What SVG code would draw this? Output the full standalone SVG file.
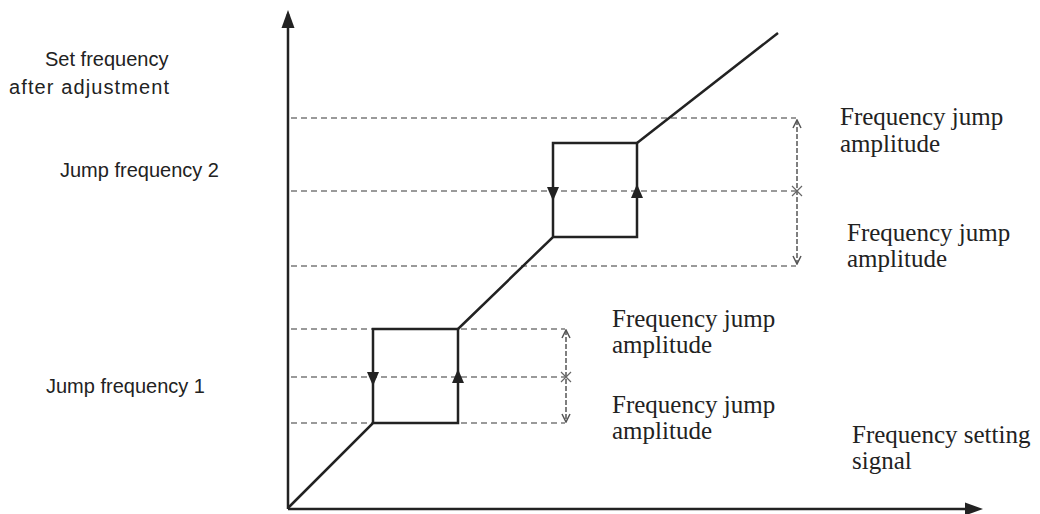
<svg xmlns="http://www.w3.org/2000/svg" width="1040" height="514" viewBox="0 0 1040 514">
<style>
.ax{stroke:#222;stroke-width:2.5;fill:none}
.ln{stroke:#222;stroke-width:2.5;fill:none;stroke-linejoin:miter}
.ds{stroke:#7a7a7a;stroke-width:1.5;stroke-dasharray:6 4;fill:none}
.dim{stroke:#555;stroke-width:1.5;stroke-dasharray:5 2;fill:none}
.x{stroke:#666;stroke-width:1.2;fill:none}
.sans{font-family:"Liberation Sans",Arial,sans-serif;font-size:20px;fill:#222}
.serif{font-family:"Liberation Serif","Times New Roman",serif;font-size:25px;fill:#222}
</style>
<defs>
<marker id="open" markerWidth="10" markerHeight="10" refX="9" refY="5" orient="auto-start-reverse" markerUnits="userSpaceOnUse">
<path d="M1,1 L9,5 L1,9" fill="none" stroke="#555" stroke-width="1.5"/>
</marker>
</defs>
<g id="axes">
<line class="ax" x1="288" y1="509" x2="288" y2="14"/>
<path d="M281.5,28 L288,10 L294.5,28 Z" fill="#222"/>
<line class="ax" x1="288" y1="509" x2="968" y2="509"/>
<path d="M965,502.5 L983,509 L965,515.5 Z" fill="#222"/>
</g>
<g id="guides">
<line class="ds" x1="291" y1="118" x2="796" y2="118"/>
<line class="ds" x1="291" y1="191" x2="796" y2="191"/>
<line class="ds" x1="291" y1="266" x2="796" y2="266"/>
<line class="ds" x1="291" y1="329" x2="565" y2="329"/>
<line class="ds" x1="291" y1="377" x2="565" y2="377"/>
<line class="ds" x1="291" y1="423" x2="565" y2="423"/>
</g>
<g id="connectors">
<polyline class="ln" points="288,508 373,423 458,423 458,329 373,329 373,423"/>
<polyline class="ln" points="458,329 553,237 637,237 637,143 553,143 553,237"/>
<polyline class="ln" points="637,143 778,33"/>
<path d="M367,372 L379,372 L373,386 Z" fill="#222"/>
<path d="M452,383 L464,383 L458,369 Z" fill="#222"/>
<path d="M547,187 L559,187 L553,201 Z" fill="#222"/>
<path d="M631,198 L643,198 L637,184 Z" fill="#222"/>
</g>
<g id="dimension1">
<line class="dim" x1="566" y1="330" x2="566" y2="422" marker-start="url(#open)" marker-end="url(#open)"/>
<path class="x" d="M561,372 L571,382 M571,372 L561,382"/>
</g>
<g id="dimension2">
<line class="dim" x1="797" y1="120" x2="797" y2="264" marker-start="url(#open)" marker-end="url(#open)"/>
<path class="x" d="M792,186 L802,196 M802,186 L792,196"/>
</g>
<g id="label-y">
<text class="sans" x="45" y="66">Set frequency</text>
<text class="sans" x="9" y="94" textLength="160">after adjustment</text>
</g>
<g id="label-jf2"><text class="sans" x="60" y="177">Jump frequency 2</text></g>
<g id="label-jf1"><text class="sans" x="46" y="393">Jump frequency 1</text></g>
<g id="label-a1">
<text class="serif" x="840" y="125">Frequency jump</text>
<text class="serif" x="840" y="152">amplitude</text>
</g>
<g id="label-a2">
<text class="serif" x="847" y="241">Frequency jump</text>
<text class="serif" x="847" y="267">amplitude</text>
</g>
<g id="label-a3">
<text class="serif" x="612" y="327">Frequency jump</text>
<text class="serif" x="612" y="353">amplitude</text>
</g>
<g id="label-a4">
<text class="serif" x="612" y="413">Frequency jump</text>
<text class="serif" x="612" y="439">amplitude</text>
</g>
<g id="label-x">
<text class="serif" x="852" y="443">Frequency setting</text>
<text class="serif" x="852" y="469">signal</text>
</g>
</svg>
